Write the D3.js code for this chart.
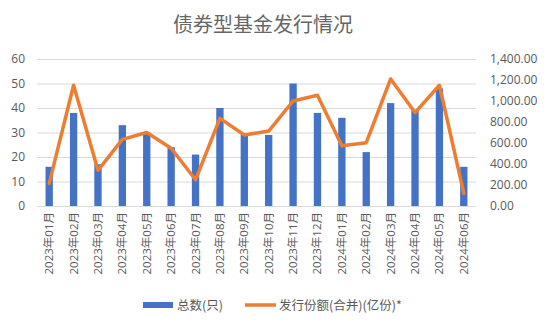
<!DOCTYPE html>
<html>
<head>
<meta charset="utf-8">
<script src="https://cdn.jsdelivr.net/npm/d3@7"></script>
<style>
  html, body { margin: 0; padding: 0; background: #fff; }
  svg text { font-family: "Open Sans", "Noto Sans CJK SC", sans-serif; fill: #595959; }
</style>
</head>
<body>
<svg id="chart" width="548" height="329"></svg>
<script>
// Monthly bond fund issuance: fund count (bars, left axis) and issued shares (line, right axis)
const months = ["2023年01月","2023年02月","2023年03月","2023年04月","2023年05月","2023年06月",
  "2023年07月","2023年08月","2023年09月","2023年10月","2023年11月","2023年12月",
  "2024年01月","2024年02月","2024年03月","2024年04月","2024年05月","2024年06月"];
const fundCount = [16, 38, 17, 33, 30, 24, 21, 40, 29, 29, 50, 38, 36, 22, 42, 39, 48, 16];
const issuedShares = [215, 1150, 340, 635, 700, 550, 250, 835, 676, 714, 1000, 1055, 574, 603, 1210, 890, 1150, 120];
const leftTicks = [0, 10, 20, 30, 40, 50, 60];
const rightTicks = [0, 200, 400, 600, 800, 1000, 1200, 1400];
const seriesNames = ["总数(只)", "发行份额(合并)(亿份)*"];
const titleText = "债券型基金发行情况";

const blue = "#4472C4", orange = "#ED7D31", grid = "#D9D9D9";
const svg = d3.select("#chart");
const plot = { left: 37, right: 476, top: 59, bottom: 206 };

const x = d3.scaleBand().domain(months).range([plot.left, plot.right]).paddingInner(0.7).paddingOuter(0.35);
const xc = d3.scaleBand().domain(months).range([plot.left, plot.right]);
const yL = d3.scaleLinear().domain([0, 60]).range([plot.bottom, plot.top]);
const yR = d3.scaleLinear().domain([0, 1400]).range([plot.bottom, plot.top]);

// Title
svg.append("text").attr("x", 263).attr("y", 32).attr("text-anchor", "middle")
  .style("font-size", "20px").style("fill", "#666")
  .style("font-family", "'Noto Sans CJK SC', sans-serif").text(titleText);

// Gridlines
svg.append("g").selectAll("line").data(leftTicks).join("line")
  .attr("x1", plot.left).attr("x2", plot.right)
  .attr("y1", d => yL(d) + 0.5).attr("y2", d => yL(d) + 0.5)
  .attr("stroke", grid).attr("stroke-width", 1);

// Left axis
const gL = svg.append("g").attr("transform", `translate(${plot.left},0)`)
  .call(d3.axisLeft(yL).tickValues(leftTicks).tickSize(0).tickPadding(12));
gL.select(".domain").remove();
gL.selectAll("text").style("font-size", "12px").style("fill", "#595959");

// Right axis
const fmt = d3.format(",.2f");
const gR = svg.append("g").attr("transform", `translate(${plot.right},0)`)
  .call(d3.axisRight(yR).tickValues(rightTicks).tickSize(0).tickPadding(14).tickFormat(fmt));
gR.select(".domain").remove();
gR.selectAll("text").style("font-size", "12px").style("fill", "#595959");

// Category labels (vertical)
svg.append("g").selectAll("text").data(months).join("text")
  .attr("transform", d => `translate(${xc(d) + xc.bandwidth() / 2 + 4},${plot.bottom + 6}) rotate(-90)`)
  .attr("text-anchor", "end")
  .style("font-size", "11.5px")
  .text(d => d);

// Bars
svg.append("g").selectAll("rect").data(fundCount).join("rect")
  .attr("x", (d, i) => x(months[i]))
  .attr("width", x.bandwidth())
  .attr("y", d => yL(d))
  .attr("height", d => yL(0) - yL(d))
  .attr("fill", blue);

// Line
const line = d3.line()
  .x((d, i) => xc(months[i]) + xc.bandwidth() / 2)
  .y(d => yR(d));
svg.append("path").datum(issuedShares)
  .attr("d", line).attr("fill", "none")
  .attr("stroke", orange).attr("stroke-width", 3.5)
  .attr("stroke-linejoin", "round").attr("stroke-linecap", "round");

// Legend
const lg = svg.append("g");
lg.append("rect").attr("x", 143).attr("y", 302).attr("width", 30).attr("height", 6).attr("fill", blue);
lg.append("text").attr("x", 177).attr("y", 309.5).style("font-size", "12.5px")
  .style("font-family", "'Noto Sans CJK SC', sans-serif").text(seriesNames[0]);
lg.append("line").attr("x1", 245).attr("x2", 276).attr("y1", 305).attr("y2", 305)
  .attr("stroke", orange).attr("stroke-width", 3.5);
lg.append("text").attr("x", 279).attr("y", 309.5).style("font-size", "12.5px")
  .style("font-family", "'Noto Sans CJK SC', sans-serif").text(seriesNames[1]);
</script>
</body>
</html>
